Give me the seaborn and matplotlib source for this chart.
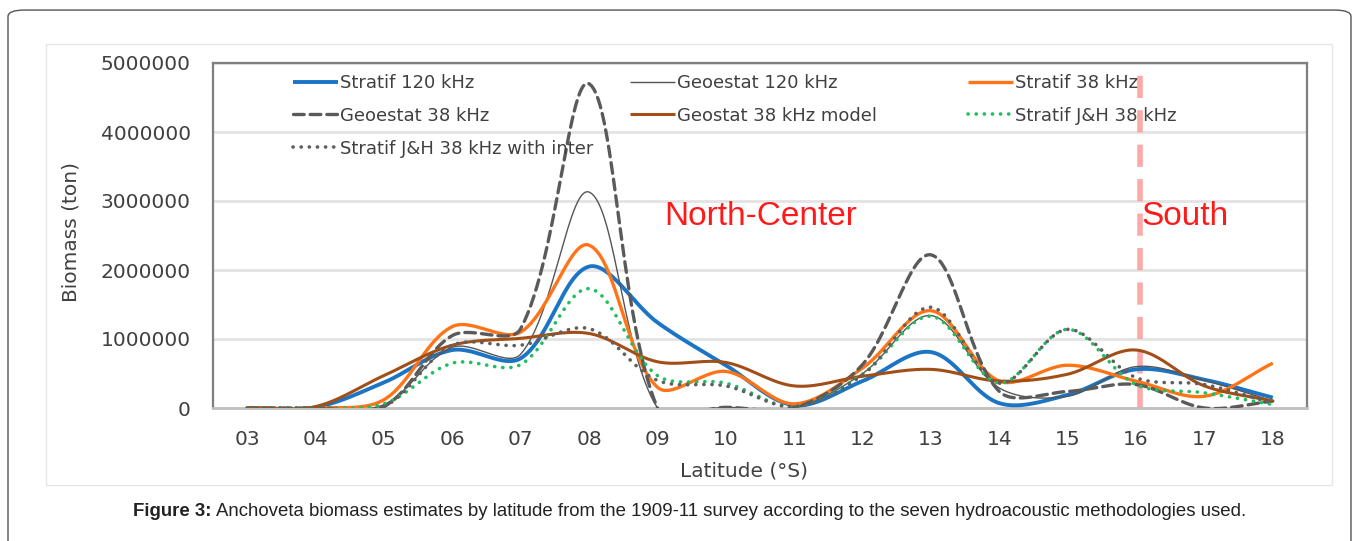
import numpy as np
import pandas as pd
import matplotlib
matplotlib.use("Agg")
import matplotlib.pyplot as plt
import seaborn as sns
from matplotlib.patches import FancyBboxPatch, Rectangle
from matplotlib import font_manager

# ---------------- data ----------------
latitudes = ["03", "04", "05", "06", "07", "08", "09", "10", "11", "12",
             "13", "14", "15", "16", "17", "18"]

stratif_120 = [0, 10000, 370000, 840000, 720000, 2050000, 1240000, 620000,
               40000, 390000, 810000, 70000, 190000, 560000, 410000, 150000]
geoestat_120 = [0, 0, 50000, 880000, 780000, 3130000, 0, 10000,
                0, 500000, 1340000, 290000, 170000, 600000, 400000, 100000]
stratif_38 = [0, 0, 120000, 1180000, 1100000, 2360000, 300000, 530000,
              60000, 580000, 1410000, 390000, 620000, 390000, 170000, 650000]
geoestat_38 = [0, 0, 20000, 1050000, 1150000, 4700000, 0, 10000,
               0, 630000, 2220000, 240000, 240000, 340000, 0, 100000]
geostat_38_model = [0, 20000, 470000, 910000, 1010000, 1080000, 670000, 660000,
                    320000, 460000, 560000, 390000, 490000, 840000, 320000, 100000]
stratif_jh_38 = [0, 0, 60000, 650000, 630000, 1730000, 470000, 360000,
                 20000, 490000, 1330000, 360000, 1140000, 340000, 220000, 50000]
stratif_jh_38_inter = [0, 0, 20000, 910000, 910000, 1150000, 400000, 320000,
                       20000, 480000, 1460000, 360000, 1140000, 440000, 340000, 70000]

series_names = ["Stratif 120 kHz", "Geoestat 120 kHz", "Stratif 38 kHz",
                "Geoestat 38 kHz", "Geostat 38 kHz model", "Stratif J&H 38 kHz",
                "Stratif J&H 38 kHz with inter"]
series_values = [stratif_120, geoestat_120, stratif_38, geoestat_38,
                 geostat_38_model, stratif_jh_38, stratif_jh_38_inter]

yticks = [0, 1000000, 2000000, 3000000, 4000000, 5000000]
region_labels = ["North-Center", "South"]
boundary_lat = "16"
caption_bold = "Figure 3:"
caption_rest = ("Anchoveta biomass estimates by latitude from the 1909-11 survey "
                "according to the seven hydroacoustic methodologies used.")

# ---------------- styles ----------------
styles = {
    "Stratif 120 kHz": dict(color="#1B75C4", lw=2.8, ls="-"),
    "Geoestat 120 kHz": dict(color="#555555", lw=1.0, ls="-"),
    "Stratif 38 kHz": dict(color="#FF7417", lw=2.4, ls="-"),
    "Geoestat 38 kHz": dict(color="#5A5A5A", lw=2.4, ls=(0, (3.2, 1.8))),
    "Geostat 38 kHz model": dict(color="#A24E17", lw=2.2, ls="-"),
    "Stratif J&H 38 kHz": dict(color="#1FBF5F", lw=2.6, ls=(0, (0.05, 2.2))),
    "Stratif J&H 38 kHz with inter": dict(color="#5F5F5F", lw=2.6, ls=(0, (0.05, 2.2))),
}

W, H = 1358, 541
AX_L, AX_R, AX_T, AX_B = 213, 1307, 63, 408
PX_X = (AX_R - AX_L) / 16.0       # screen px per category
PX_Y = (AX_B - AX_T) / 5000000.0  # screen px per ton


def smooth(x, y, n=30):
    """Excel-like smoothed line: Bezier segments whose control points are
    scaled by the on-screen lengths of neighbouring segments."""
    X = np.asarray(x, float) * PX_X
    Y = np.asarray(y, float) * PX_Y
    P = np.column_stack([X, Y])
    m = len(P)
    out = []
    for i in range(m - 1):
        p1, p2 = P[i], P[i + 1]
        p0 = P[i - 1] if i > 0 else p1
        p3 = P[i + 2] if i + 2 < m else p2
        d01 = np.linalg.norm(p1 - p0)
        d12 = np.linalg.norm(p2 - p1)
        d23 = np.linalg.norm(p3 - p2)
        f = 1.0 / 3.0
        c1 = p1 + (p2 - p0) * f * (d12 / (d01 + d12) if d01 + d12 > 0 else 0)
        c2 = p2 - (p3 - p1) * f * (d12 / (d12 + d23) if d12 + d23 > 0 else 0)
        t = np.linspace(0, 1, n, endpoint=(i == m - 2))[:, None]
        b = ((1 - t) ** 3 * p1 + 3 * (1 - t) ** 2 * t * c1
             + 3 * (1 - t) * t ** 2 * c2 + t ** 3 * p2)
        out.append(b)
    B = np.vstack(out)
    return B[:, 0] / PX_X, B[:, 1] / PX_Y


sns.set_theme(style="white")
plt.rcParams["font.family"] = ["DejaVu Sans"]

avail = {f.name for f in font_manager.fontManager.ttflist}
cap_family = "Liberation Sans Narrow" if "Liberation Sans Narrow" in avail else "Liberation Sans"

fig = plt.figure(figsize=(W / 100, H / 100), dpi=100)

# outer rounded frame and inner chart frame
fig.patches.append(FancyBboxPatch((8 / W, -0.05), 1343 / W, (531 + 27) / H,
                                  boxstyle="round,pad=0,rounding_size=0.012",
                                  transform=fig.transFigure, fill=False,
                                  ec="#555555", lw=1.0, zorder=0))
fig.patches.append(Rectangle((46 / W, 1 - 485 / H), 1286 / W, (485 - 44) / H,
                             transform=fig.transFigure, fill=False,
                             ec="#E6E6E6", lw=1.0, zorder=0))

ax = fig.add_axes([AX_L / W, 1 - AX_B / H, (AX_R - AX_L) / W, (AX_B - AX_T) / H])

xpos = np.arange(len(latitudes))
handles = {}
for name, vals in zip(series_names, series_values):
    sx, sy = smooth(xpos, vals)
    df = pd.DataFrame({"x": sx, "y": sy})
    st = styles[name]
    sns.lineplot(data=df, x="x", y="y", ax=ax, color=st["color"], lw=st["lw"],
                 linestyle=st["ls"], sort=False, estimator=None,
                 dash_capstyle="round", solid_capstyle="butt", zorder=3)
    handles[name] = ax.lines[-1]

ax.set_xlim(-0.5, len(latitudes) - 0.5)
ax.set_ylim(0, 5000000)
ax.set_xticks(xpos)
ax.set_xticklabels(latitudes)
ax.set_yticks(yticks)
ax.set_yticklabels([str(v) for v in yticks])
ax.tick_params(axis="x", length=0, pad=16, labelsize=14.5, labelcolor="#404040")
ax.tick_params(axis="y", length=0, pad=16, labelsize=14.5, labelcolor="#404040")
ax.grid(axis="y", color="#E3E3E3", lw=2.0, zorder=0)
ax.grid(axis="x", visible=False)
for sp in ax.spines.values():
    sp.set_color("#7F7F7F")
    sp.set_linewidth(1.6)
ax.spines["bottom"].set_color("#BFBFBF")
ax.spines["bottom"].set_linewidth(2.0)
ax.set_xlabel("")
ax.set_ylabel("")

fig.text(744 / W, 1 - 471 / H, "Latitude (°S)", fontsize=14.5, color="#404040",
         ha="center", va="center")
fig.text(71 / W, 1 - 232 / H, "Biomass (ton)", fontsize=14.5, color="#404040",
         ha="center", va="center", rotation=90)

# boundary line and region labels
bidx = latitudes.index(boundary_lat)
ax.axvline(bidx + 0.06, color="#FF9999", lw=4, ls=(0, (4, 2.2)), alpha=0.85, zorder=2)
ax.text(7.51, 2780000, region_labels[0], color="#FF1A1A", fontsize=24,
        ha="center", va="center", fontfamily="Liberation Sans")
ax.text(bidx + 0.72, 2780000, region_labels[1], color="#FF1A1A", fontsize=24,
        ha="center", va="center", fontfamily="Liberation Sans")

# legend: three columns placed like the original (row-wise reading order)
columns = [[0, 3, 6], [1, 4], [2, 5]]
col_x = [293, 630, 968]
legs = []
for cols, cx in zip(columns, col_x):
    names = [series_names[i] for i in cols]
    anchor = ((cx - AX_L) / (AX_R - AX_L), (AX_B - 74) / (AX_B - AX_T))
    lg = ax.legend([handles[n] for n in names], names, loc="upper left",
                   bbox_to_anchor=anchor, frameon=False, fontsize=13,
                   handlelength=2.5, handletextpad=0.1, labelspacing=0.82,
                   borderpad=0, borderaxespad=0)
    for t in lg.get_texts():
        t.set_color("#404040")
    legs.append(lg)
for lg in legs[:-1]:
    ax.add_artist(lg)

# caption, fitted to the original width
fig.canvas.draw()
fs = 12.5
for _ in range(3):
    tb = fig.text(133 / W, 1 - 511 / H, caption_bold, fontsize=fs, fontweight="bold",
                  ha="left", va="center", fontfamily=cap_family, color="#222222")
    fig.canvas.draw()
    bb = tb.get_window_extent()
    tr = fig.text((bb.x1 + 4) / W, 1 - 511 / H, caption_rest, fontsize=fs,
                  ha="left", va="center", fontfamily=cap_family, color="#222222")
    fig.canvas.draw()
    total = tr.get_window_extent().x1 - 133
    tb.remove()
    tr.remove()
    if abs(total - 1117) < 3:
        break
    fs = fs * 1117 / total

tb = fig.text(133 / W, 1 - 511 / H, caption_bold, fontsize=fs, fontweight="bold",
              ha="left", va="center", fontfamily=cap_family, color="#222222")
fig.canvas.draw()
bb = tb.get_window_extent()
fig.text((bb.x1 + 4) / W, 1 - 511 / H, caption_rest, fontsize=fs,
         ha="left", va="center", fontfamily=cap_family, color="#222222")

fig.savefig("out.png", dpi=100)
